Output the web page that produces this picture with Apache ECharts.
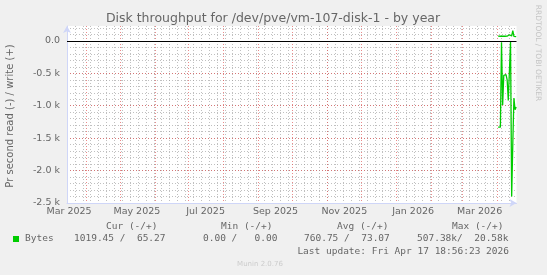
<!DOCTYPE html>
<html><head><meta charset="utf-8">
<script src="https://cdn.jsdelivr.net/npm/echarts@6/dist/echarts.min.js"></script>
<style>html,body{margin:0;padding:0;background:#f0f0f0;}#c{width:547px;height:275px;}</style>
</head><body><div id="c"></div>
<script>
const titleText = 'Disk throughput for /dev/pve/vm-107-disk-1 - by year';
const yAxisName = 'Pr second read (-) / write (+)';
const sideText = 'RRDTOOL / TOBI OETIKER';
const startTime = '2025-03-15T03:00:00';
const endTime = '2026-04-17T18:56:23';
const dates = ['2026-04-01T12:00:00','2026-04-02T12:00:00','2026-04-03T12:00:00','2026-04-04T12:00:00',
  '2026-04-05T12:00:00','2026-04-06T12:00:00','2026-04-07T12:00:00','2026-04-08T12:00:00',
  '2026-04-09T12:00:00','2026-04-10T12:00:00','2026-04-11T12:00:00','2026-04-12T12:00:00',
  '2026-04-13T12:00:00','2026-04-14T12:00:00','2026-04-15T12:00:00','2026-04-16T12:00:00',
  '2026-04-17T12:00:00'];
const readValues = [-1330,-1330,-1330,-20,-990,-530,-560,-520,-600,-920,-910,-15,-2400,-1590,-880,-1060,-1019];
const writeValues = [75,72,72,73,72,72,72,72,73,74,95,70,75,160,70,58,65];
const yMin = -2500, yMax = 230, yMajor = 500, yMinor = 100;
const monthNames = ['Jan','Feb','Mar','Apr','May','Jun','Jul','Aug','Sep','Oct','Nov','Dec'];
const legendHeaders = ['Cur (-/+)','Min (-/+)','Avg (-/+)','Max (-/+)'];
const legendName = 'Bytes';
const legendValues = ['1019.45 /  65.27','0.00 /   0.00','760.75 /  73.07','507.38k/  20.58k'];
const lastUpdate = 'Last update: Fri Apr 17 18:56:23 2026';
const footerText = 'Munin 2.0.76';

const GREEN = '#00cc00';
const FONT = '#666666';
const t0 = +new Date(startTime), t1 = +new Date(endTime);
const spanDays = (t1 - t0) / 86400000;

const chart = echarts.init(document.getElementById('c'), null, {renderer:'canvas'});
const minorLine = {show:true, showMinLine:false, showMaxLine:false, lineStyle:{color:'rgba(150,150,150,0.6)', type:[1,2], width:1}};
const majorLine = {show:true, showMinLine:false, showMaxLine:false, lineStyle:{color:'rgba(222,79,79,0.65)', type:[1,2], width:1}};
const mono = '9.5px "DejaVu Sans Mono"';
const headerX = [106,221,337,452];
const valueX = [74,203,304,417];
const graphics = [
  {type:'text', x:273, y:19, style:{text:titleText, fill:FONT, font:'12.5px "DejaVu Sans"', align:'center', verticalAlign:'middle'}},
  {type:'text', x:10, y:116, rotation:Math.PI/2, style:{text:yAxisName, fill:FONT, font:'10px "DejaVu Sans"', align:'center', verticalAlign:'middle'}},
  {type:'text', x:538, y:53, rotation:-Math.PI/2, style:{text:sideText, fill:'#c4c4c4', font:'7.5px "DejaVu Sans"', align:'center', verticalAlign:'middle'}},
  {type:'rect', shape:{x:13, y:236, width:6, height:6}, style:{fill:GREEN}},
  {type:'text', x:25, y:239, style:{text:legendName, fill:FONT, font:mono, align:'left', verticalAlign:'middle'}},
  {type:'text', x:509, y:252, style:{text:lastUpdate, fill:FONT, font:mono, align:'right', verticalAlign:'middle'}},
  {type:'text', x:260, y:264, style:{text:footerText, fill:'#cccccc', font:'7px "DejaVu Sans"', align:'center', verticalAlign:'middle'}}
];
legendHeaders.forEach((h,i)=>graphics.push({type:'text', x:headerX[i], y:227, style:{text:h, fill:FONT, font:mono, align:'left', verticalAlign:'middle'}}));
legendValues.forEach((v,i)=>graphics.push({type:'text', x:valueX[i], y:239, style:{text:v, fill:FONT, font:mono, align:'left', verticalAlign:'middle'}}));

chart.setOption({
  animation:false,
  backgroundColor:'#f0f0f0',
  grid:{left:67, right:30.5, top:26, bottom:72, containLabel:false, outerBoundsMode:'none', show:true, backgroundColor:'#ffffff', borderWidth:0},
  xAxis:[
    {type:'value', position:'top', min:0, max:spanDays, interval:7, axisLine:{show:false}, axisTick:{show:false}, axisLabel:{show:false}, splitLine:minorLine},
    {type:'time', position:'bottom', min:t0, max:t1, splitNumber:13,
      axisLine:{show:true, onZero:false, lineStyle:{color:'#CFD6F8', width:1}, symbol:['none','arrow'], symbolSize:[6,7]},
      axisTick:{show:false},
      axisLabel:{show:true, showMinLabel:true, showMaxLabel:false, color:FONT, fontSize:9.5, fontFamily:'DejaVu Sans', margin:4, hideOverlap:false,
        formatter:function(v){
          const d = new Date(v);
          if (Math.abs(v - t0) < 1000) return '{a|' + monthNames[d.getMonth()] + ' ' + d.getFullYear() + '}';
          if (d.getDate() === 1 && d.getHours() === 0 && d.getMonth() % 2 === 0) return '{b|' + monthNames[d.getMonth()] + ' ' + d.getFullYear() + '}';
          return '';
        },
        rich:{a:{color:FONT, fontSize:9.5, fontFamily:'DejaVu Sans', padding:[0,0,0,4]}, b:{color:FONT, fontSize:9.5, fontFamily:'DejaVu Sans', padding:[0,0,0,34]}}},
      splitLine:majorLine}
  ],
  yAxis:[
    {type:'value', position:'right', min:yMin, max:yMax, interval:yMinor, axisLine:{show:false}, axisTick:{show:false}, axisLabel:{show:false}, splitLine:minorLine},
    {type:'value', position:'left', min:yMin, max:yMax, interval:yMajor,
      axisLine:{show:true, onZero:false, lineStyle:{color:'#CFD6F8', width:1}, symbol:['none','arrow'], symbolSize:[6,7]},
      axisTick:{show:false},
      axisLabel:{color:FONT, fontSize:9.5, fontFamily:'DejaVu Sans', margin:7,
        formatter:function(v){ if (v % yMajor !== 0) return ''; if (v === 0) return '0.0'; return (v/1000).toFixed(1) + ' k'; }},
      splitLine:majorLine}
  ],
  graphic:graphics,
  series:[
    {type:'line', name:legendName, xAxisIndex:1, yAxisIndex:1, data:dates.map((d,i)=>[d, readValues[i]]),
      showSymbol:false, symbol:'none', lineStyle:{color:GREEN, width:1.3}, itemStyle:{color:GREEN}, z:3,
      markLine:{silent:true, symbol:['none','none'], label:{show:false}, lineStyle:{color:'#000', type:'solid', width:1.2}, data:[{yAxis:0}]}},
    {type:'line', name:legendName, xAxisIndex:1, yAxisIndex:1, data:dates.map((d,i)=>[d, writeValues[i]]),
      showSymbol:false, symbol:'none', lineStyle:{color:GREEN, width:1.3}, itemStyle:{color:GREEN}, z:3}
  ]
});
</script></body></html>
